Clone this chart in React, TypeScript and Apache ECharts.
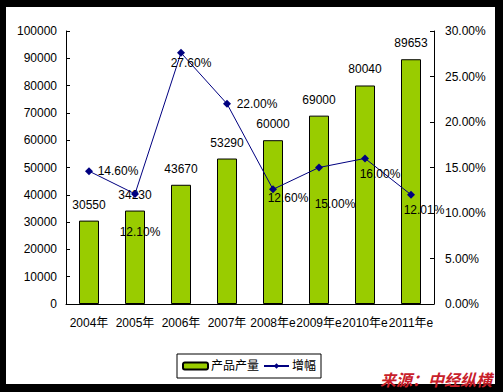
import React, { useEffect, useRef } from "react";
import * as echarts from "echarts";

const categories = ["2004年", "2005年", "2006年", "2007年", "2008年e", "2009年e", "2010年e", "2011年e"];
const production = [30550, 34230, 43670, 53290, 60000, 69000, 80040, 89653];
const growth = [14.6, 12.1, 27.6, 22.0, 12.6, 15.0, 16.0, 12.01];
const growthLabelOffsets: number[][] = [
  [29, 0], [5, 38], [10, 10], [30, 0], [15, 9], [16, 36], [15, 16], [13, 15],
];

const FONT = '"Liberation Sans", Arial, "Noto Sans CJK SC", sans-serif';

export default function App() {
  const ref = useRef<HTMLDivElement>(null);
  useEffect(() => {
    if (!ref.current) return;
    const chart = echarts.init(ref.current, undefined, { renderer: "svg" });
    chart.setOption({
      animation: false,
      textStyle: { fontFamily: FONT },
      grid: { left: 66, right: 69, top: 31, bottom: 88, containLabel: false },
      legend: {
        left: 177,
        top: 354,
        width: 146,
        height: 26,
        padding: [6, 5, 6, 5],
        itemGap: 4,
        itemWidth: 25,
        itemHeight: 7,
        borderColor: "#000",
        borderWidth: 1,
        textStyle: { fontSize: 12, color: "#000", fontFamily: FONT, padding: [0, 0, 0, -2] },
        data: [
          { name: "产品产量" },
          { name: "增幅" },
        ],
      },
      xAxis: {
        type: "category",
        data: categories,
        axisLine: { lineStyle: { color: "#000", width: 1 } },
        axisTick: { inside: true, length: 5, alignWithLabel: false, lineStyle: { color: "#000" } },
        axisLabel: { interval: 0, color: "#000", fontSize: 12, margin: 13, fontFamily: FONT },
        splitLine: { show: false },
      },
      yAxis: [
        {
          type: "value",
          min: 0,
          max: 100000,
          interval: 10000,
          axisLine: { show: true, lineStyle: { color: "#000" } },
          axisTick: { show: true, inside: true, length: 4, lineStyle: { color: "#000" } },
          axisLabel: {
            color: "#000",
            fontSize: 12,
            margin: 9,
            fontFamily: FONT,
            formatter: (v: number) => String(v),
          },
          splitLine: { show: false },
        },
        {
          type: "value",
          min: 0,
          max: 30,
          interval: 5,
          position: "right",
          axisLine: { show: true, lineStyle: { color: "#000" } },
          axisTick: { show: true, inside: true, length: 4, lineStyle: { color: "#000" } },
          axisLabel: {
            color: "#000",
            fontSize: 12,
            margin: 11,
            fontFamily: FONT,
            formatter: (v: number) => v.toFixed(2) + "%",
          },
          splitLine: { show: false },
        },
      ],
      series: [
        {
          name: "产品产量",
          type: "bar",
          data: production,
          barWidth: 20,
          itemStyle: { color: "#99cc00", borderColor: "#000", borderWidth: 1 },
          label: {
            show: true,
            position: "top",
            distance: 10,
            color: "#000",
            fontSize: 12,
            fontFamily: FONT,
          },
          z: 2,
        },
        {
          name: "增幅",
          type: "line",
          yAxisIndex: 1,
          data: growth.map((v, i) => ({
            value: v,
            label: { offset: growthLabelOffsets[i] },
          })),
          symbol: "diamond",
          symbolSize: 8,
          lineStyle: { color: "#000080", width: 1 },
          itemStyle: { color: "#000080" },
          label: {
            show: true,
            position: "inside",
            color: "#000",
            fontSize: 12,
            fontFamily: FONT,
            formatter: (p: any) => Number(p.value).toFixed(2) + "%",
          },
          z: 3,
        },
      ],
      graphic: [
        {
          type: "text",
          left: 380,
          top: 371,
          z: 100,
          style: {
            text: "来源：中经纵横",
            fill: "#c8202a",
            font: 'italic bold 16px "Noto Sans CJK SC", sans-serif',
          },
        },
      ],
    });
    return () => chart.dispose();
  }, []);

  return (
    <div style={{ position: "absolute", left: 0, top: 0, width: 503, height: 392, background: "#000" }}>
      <div style={{ position: "absolute", left: 6, top: 7, width: 489, height: 377, background: "#fff" }} />
      <div ref={ref} style={{ position: "absolute", left: 0, top: 0, width: 503, height: 392 }} />
    </div>
  );
}
